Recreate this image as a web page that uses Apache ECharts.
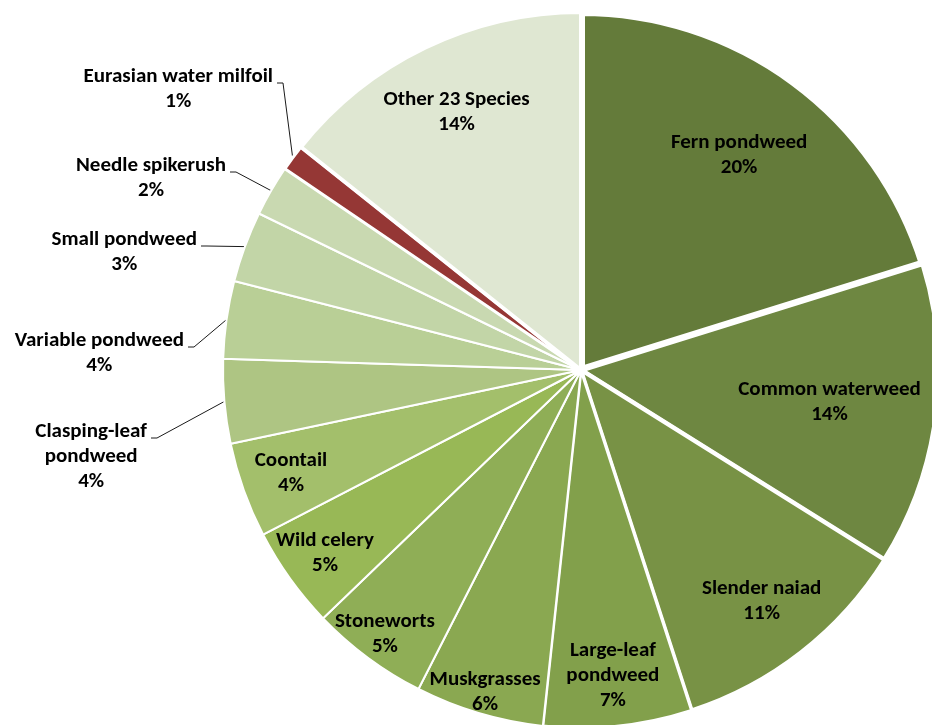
<!DOCTYPE html>
<html>
<head>
<meta charset="utf-8">
<script src="https://cdn.jsdelivr.net/npm/echarts@6/dist/echarts.min.js"></script>
<style>
  html, body { margin: 0; padding: 0; background: #fff; }
  #chart { width: 932px; height: 725px; }
</style>
</head>
<body>
<div id="chart"></div>
<script>
// Aquatic plant species, share of all plants found in the survey (%)
const species = [
  'Fern pondweed', 'Common waterweed', 'Slender naiad', 'Large-leaf\npondweed',
  'Muskgrasses', 'Stoneworts', 'Wild celery', 'Coontail', 'Clasping-leaf\npondweed',
  'Variable pondweed', 'Small pondweed', 'Needle spikerush', 'Eurasian water milfoil',
  'Other 23 Species'
];
const shares = [20.2, 13.7, 11.1, 6.7, 5.8, 5.3, 4.6, 4.3, 3.8, 3.5, 3.2, 2.3, 1.2, 14.3];

const colors = ['#647b3a', '#6e8741', '#789245', '#82a04b', '#8aa851', '#8fae56', '#98b856',
  '#a3bf6b', '#aec583', '#b9cf96', '#c2d5a7', '#c9d9b1', '#953735', '#dfe7d2'];
const borders = [8, 5, 4, 3, 2, 2, 2, 2, 2, 2, 2, 2, 3, 4];

// inside labels: distance from the centre as a fraction of the radius (0 = label sits outside)
const insideRatio = [0.745, 0.70, 0.82, 0.86, 0.94, 0.92, 0.88, 0.86, 0, 0, 0, 0, 0, 0.80];
// outside labels: right end of the first text line and the height of its leader line
const outsideAnchor = {
  8: [147, 438],
  9: [184, 347],
  10: [197, 246],
  11: [226, 172],
  12: [273, 83]
};

const CX = 581, CY = 370, R = 358;
const font = { fontFamily: 'Carlito, Calibri, Lato, sans-serif', fontWeight: 'bold', fontSize: 21, color: '#000', lineHeight: 25 };
const pctText = p => Math.round(p.percent) + '%';

const chart = echarts.init(document.getElementById('chart'), null, { renderer: 'canvas' });

const sliceData = species.map((name, i) => ({
  name,
  value: shares[i],
  itemStyle: { color: colors[i], borderColor: '#fff', borderWidth: borders[i] },
  label: { show: insideRatio[i] === 0 },
  labelLine: { show: insideRatio[i] === 0 }
}));

const innerData = species.map((name, i) => ({
  name,
  value: shares[i],
  label: { show: insideRatio[i] > 0 }
}));

chart.setOption({
  animation: false,
  series: [
    {
      type: 'pie',
      center: [CX, CY],
      radius: R,
      startAngle: 90,
      clockwise: true,
      avoidLabelOverlap: false,
      data: sliceData,
      label: Object.assign({
        position: 'outside',
        formatter: p => p.name + '\n' + pctText(p),
        align: 'center'
      }, font),
      labelLine: { length: 14, length2: 8, lineStyle: { color: '#1a1a1a', width: 1 } },
      labelLayout: function (p) {
        const a = outsideAnchor[p.dataIndex];
        if (!a) return {};
        const edge = p.labelLinePoints ? p.labelLinePoints[0] : [a[0] + 10, a[1]];
        return {
          x: a[0] - p.labelRect.width / 2,
          y: a[1] - 18.5,
          align: 'center',
          verticalAlign: 'top',
          labelLinePoints: [edge, [a[0] + 10, a[1]], [a[0] + 4, a[1]]]
        };
      },
      emphasis: { disabled: true },
      silent: true
    },
    {
      // transparent copy of the slices that carries the inside labels
      type: 'pie',
      center: [CX, CY],
      radius: R,
      startAngle: 90,
      clockwise: true,
      data: innerData,
      itemStyle: { color: 'rgba(0,0,0,0)', borderWidth: 0 },
      label: Object.assign({
        position: 'inside',
        formatter: p => p.name + '\n' + pctText(p)
      }, font),
      labelLayout: function (p) {
        const i = p.dataIndex;
        const lr = p.labelRect;
        const lx = lr.x + lr.width / 2, ly = lr.y + lr.height / 2;
        const dx = lx - CX, dy = ly - CY;
        const d = Math.sqrt(dx * dx + dy * dy) || 1;
        const k = insideRatio[i] * R / d;
        return { x: CX + dx * k, y: CY + dy * k, align: 'center', verticalAlign: 'middle' };
      },
      emphasis: { disabled: true },
      silent: true
    }
  ]
});
</script>
</body>
</html>
